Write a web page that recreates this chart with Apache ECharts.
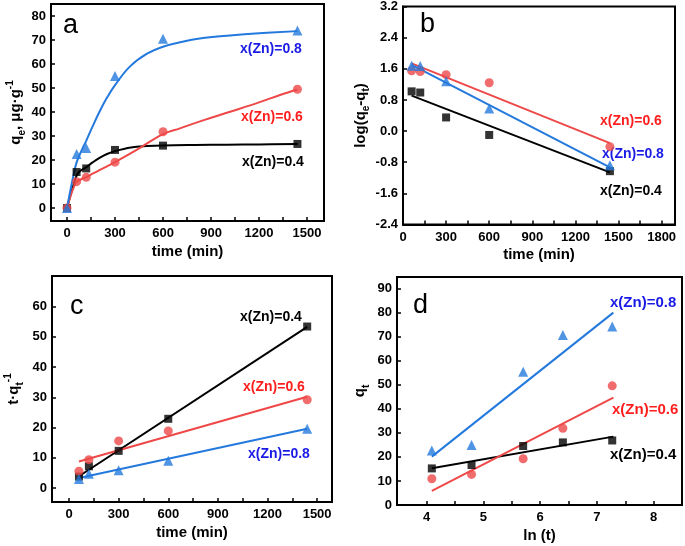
<!DOCTYPE html>
<html><head><meta charset="utf-8">
<script src="https://cdn.jsdelivr.net/npm/echarts@6/dist/echarts.min.js"></script>
<style>html,body{margin:0;padding:0;background:#fff}#c{width:685px;height:546px}</style>
</head><body><div id="c"></div>
<script>
// ---------- data ----------
const timeT = [0, 60, 120, 300, 600, 1440];
const aQ04 = [0, 15.0, 16.5, 24.2, 26.0, 26.7];
const aQ06 = [0, 11.0, 12.8, 19.1, 31.8, 49.5];
const aQ08 = [0, 22.5, 25.0, 55.0, 70.5, 74.0];

const aFitT04 = [0, 20, 40, 60, 80, 120, 160, 206, 250, 300, 400, 500, 600, 800, 1000, 1200, 1440];
const aFitQ04 = [0, 5, 9.5, 13.5, 15.3, 17, 19, 21, 22.5, 23.7, 25.2, 25.8, 26.1, 26.3, 26.4, 26.5, 26.7];
const aFitT06 = [0, 20, 40, 60, 90, 120, 160, 206, 250, 300, 435, 600, 706, 850, 1019, 1200, 1331, 1440];
const aFitQ06 = [0, 4.5, 8.3, 10.9, 12, 12.9, 14.3, 15.9, 17.4, 19.1, 24.2, 30.8, 33.2, 36.5, 40.1, 44, 47.1, 49.4];
const aFitT08 = [0, 20, 40, 60, 90, 120, 160, 206, 250, 300, 394, 500, 600, 700, 850, 1019, 1200, 1440];
const aFitQ08 = [0, 7, 13.5, 19, 23.8, 28, 34, 40.5, 46, 51.2, 59, 64.3, 67.2, 69, 70.8, 71.9, 72.8, 73.7];

const bT = [60, 120, 300, 600, 1440];
const bLog04 = [1.02, 0.99, 0.35, -0.10, -1.03];
const bLog06 = [1.55, 1.53, 1.45, 1.24, -0.40];
const bLog08 = [1.68, 1.67, 1.28, 0.58, -0.88];
const bFitT = [60, 1440];
const bFit04 = [0.91, -1.06];
const bFit06 = [1.74, -0.31];
const bFit08 = [1.70, -0.93];

const cT = [60, 120, 300, 600, 1440];
const cR04 = [3.8, 7.2, 12.3, 22.9, 53.4];
const cR06 = [5.6, 9.4, 15.6, 18.9, 29.2];
const cR08 = [3.0, 4.7, 5.9, 9.0, 19.6];
const cFitT = [60, 1440];
const cFit04 = [3.9, 53.3];
const cFit06 = [8.8, 30.2];
const cFit08 = [3.3, 19.6];

const dLnT = [4.09, 4.79, 5.70, 6.40, 7.27];
const dQ04 = [15.2, 16.6, 24.5, 26.0, 26.8];
const dQ06 = [10.9, 12.7, 19.2, 31.9, 49.5];
const dQ08 = [22.6, 24.9, 55.3, 70.6, 74.1];
const dFitX = [4.09, 7.29];
const dFit04 = [15.3, 28.4];
const dFit06 = [5.9, 44.6];
const dFit08 = [20.1, 79.9];

const timeTicks = [0, 150, 300, 450, 600, 750, 900, 1050, 1200, 1350, 1500];
const timeLabels = [0, 300, 600, 900, 1200, 1500];
const bTimeTicks = [0, 150, 300, 450, 600, 750, 900, 1050, 1200, 1350, 1500, 1650, 1800];
const bTimeLabels = [0, 300, 600, 900, 1200, 1500, 1800];
const aYTicks = [0, 10, 20, 30, 40, 50, 60, 70, 80];
const bYTicks = [-2.4, -1.6, -0.8, 0, 0.8, 1.6, 2.4, 3.2];
const cYTicks = [0, 10, 20, 30, 40, 50, 60];
const dXTicks = [4, 4.5, 5, 5.5, 6, 6.5, 7, 7.5, 8];
const dXLabels = [4, 5, 6, 7, 8];
const dYTicks = [0, 10, 20, 30, 40, 50, 60, 70, 80, 90];

const seriesNames = ['x(Zn)=0.4', 'x(Zn)=0.6', 'x(Zn)=0.8'];

// ---------- styling ----------
const FONT = '"Liberation Sans", Arial, sans-serif';
const C_BLACK = '#000000', C_RED = '#EE4848', C_BLUE = '#2479DD';
const T_RED = '#FF1E1E', T_BLUE = '#1A1AE6';
const zip = (a, b) => a.map((v, i) => [v, b[i]]);

function xAx(grid, min, max, ticks, labels, name, gap) {
  return {
    type: 'value', gridIndex: grid, min: min, max: max,
    name: name, nameLocation: 'middle', nameGap: gap,
    nameTextStyle: { fontFamily: FONT, fontWeight: 'bold', fontSize: 15, color: '#000' },
    axisLine: { show: true, onZero: false, lineStyle: { color: '#000', width: 2 } },
    axisTick: { show: true, inside: true, length: 4, customValues: ticks, lineStyle: { color: '#000', width: 1.5 } },
    axisLabel: { customValues: labels, fontFamily: FONT, fontWeight: 'bold', fontSize: 13, color: '#000', margin: 6,
      formatter: v => String(v) },
    splitLine: { show: false }
  };
}
function yAx(grid, min, max, ticks, name, gap, fmt) {
  return {
    type: 'value', gridIndex: grid, min: min, max: max,
    name: name, nameLocation: 'middle', nameGap: gap,
    nameTextStyle: {
      fontFamily: FONT, fontWeight: 'bold', fontSize: 15, color: '#000', lineHeight: 22,
      rich: {
        n: { fontFamily: FONT, fontWeight: 'bold', fontSize: 15, lineHeight: 22, color: '#000' },
        sub: { fontFamily: FONT, fontWeight: 'bold', fontSize: 10, lineHeight: 10, verticalAlign: 'bottom', color: '#000' },
        sup: { fontFamily: FONT, fontWeight: 'bold', fontSize: 10, lineHeight: 10, verticalAlign: 'top', color: '#000' }
      }
    },
    axisLine: { show: true, onZero: false, lineStyle: { color: '#000', width: 2 } },
    axisTick: { show: true, inside: true, length: 4, customValues: ticks, lineStyle: { color: '#000', width: 1.5 } },
    axisLabel: { customValues: ticks, fontFamily: FONT, fontWeight: 'bold', fontSize: 13, color: '#000', margin: 5,
      formatter: fmt || (v => String(v)) },
    splitLine: { show: false }
  };
}
function pts(grid, data, sym, color, size, name) {
  return { type: 'scatter', name: name, xAxisIndex: grid, yAxisIndex: grid, data: data, symbol: sym,
    symbolSize: size, itemStyle: { color: color }, z: 4 };
}
function fit(grid, data, color, smooth) {
  return { type: 'line', xAxisIndex: grid, yAxisIndex: grid, data: data, showSymbol: false, smooth: smooth || false,
    lineStyle: { color: color, width: 2 }, z: 3, silent: true };
}
function label(x, y, text, color, size) {
  return { type: 'text', left: x, top: y, style: { text: text, fill: color, font: 'bold ' + (size || 14) + 'px ' + FONT } };
}
function letter(x, y, text) {
  return { type: 'text', left: x, top: y, style: { text: text, fill: '#000', font: '27px ' + FONT } };
}

const chart = echarts.init(document.getElementById('c'));
chart.setOption({
  backgroundColor: '#fff',
  animation: false,
  grid: [
    { left: 51, top: 4, width: 273, height: 217, show: true, borderColor: '#000', borderWidth: 2 },
    { left: 403, top: 6.5, width: 272, height: 218, show: true, borderColor: '#000', borderWidth: 2 },
    { left: 52, top: 276, width: 280, height: 226, show: true, borderColor: '#000', borderWidth: 2 },
    { left: 397, top: 277, width: 285, height: 228, show: true, borderColor: '#000', borderWidth: 2 }
  ],
  xAxis: [
    xAx(0, -100, 1606, timeTicks, timeLabels, 'time (min)', 23),
    xAx(1, 0, 1893, bTimeTicks, bTimeLabels, 'time (min)', 23),
    xAx(2, -103, 1590, timeTicks, timeLabels, 'time (min)', 23),
    xAx(3, 3.476, 8.5, dXTicks, dXLabels, 'ln (t)', 23)
  ],
  yAxis: [
    yAx(0, -5.4, 85, aYTicks, '{n|q}{sub|e}{n|, μg·g}{sup|-1}', 24),
    yAx(1, -2.4, 3.2, bYTicks, '{n|log(q}{sub|e}{n|-q}{sub|t}{n|)}', 26, v => v.toFixed(1)),
    yAx(2, -4.6, 70.1, cYTicks, '{n|t·q}{sub|t}{sup|-1}', 27),
    yAx(3, 0, 94.7, dYTicks, '{n|q}{sub|t}', 26)
  ],
  series: [
    fit(0, zip(aFitT04, aFitQ04), C_BLACK, 0.4),
    fit(0, zip(aFitT06, aFitQ06), C_RED, 0.4),
    fit(0, zip(aFitT08, aFitQ08), C_BLUE, 0.4),
    pts(0, zip(timeT, aQ04), 'rect', C_BLACK, 8, seriesNames[0]),
    pts(0, zip(timeT, aQ06), 'circle', C_RED, 9, seriesNames[1]),
    pts(0, zip(timeT, aQ08), 'triangle', C_BLUE, 10, seriesNames[2]),

    fit(1, zip(bFitT, bFit04), C_BLACK),
    fit(1, zip(bFitT, bFit06), C_RED),
    fit(1, zip(bFitT, bFit08), C_BLUE),
    pts(1, zip(bT, bLog04), 'rect', C_BLACK, 8, seriesNames[0]),
    pts(1, zip(bT, bLog06), 'circle', C_RED, 9, seriesNames[1]),
    pts(1, zip(bT, bLog08), 'triangle', C_BLUE, 10, seriesNames[2]),

    fit(2, zip(cFitT, cFit04), C_BLACK),
    fit(2, zip(cFitT, cFit06), C_RED),
    fit(2, zip(cFitT, cFit08), C_BLUE),
    pts(2, zip(cT, cR04), 'rect', C_BLACK, 8, seriesNames[0]),
    pts(2, zip(cT, cR06), 'circle', C_RED, 9, seriesNames[1]),
    pts(2, zip(cT, cR08), 'triangle', C_BLUE, 10, seriesNames[2]),

    fit(3, zip(dFitX, dFit04), C_BLACK),
    fit(3, zip(dFitX, dFit06), C_RED),
    fit(3, zip(dFitX, dFit08), C_BLUE),
    pts(3, zip(dLnT, dQ04), 'rect', C_BLACK, 8, seriesNames[0]),
    pts(3, zip(dLnT, dQ06), 'circle', C_RED, 9, seriesNames[1]),
    pts(3, zip(dLnT, dQ08), 'triangle', C_BLUE, 10, seriesNames[2])
  ],
  graphic: [
    letter(63, 12, 'a'), letter(420, 11, 'b'), letter(70, 293, 'c'), letter(413, 292, 'd'),
    label(240, 42, seriesNames[2], T_BLUE), label(241, 110, seriesNames[1], T_RED), label(242, 155, seriesNames[0], '#000'),
    label(600, 114, seriesNames[1], T_RED), label(602, 147, seriesNames[2], T_BLUE), label(600, 184, seriesNames[0], '#000'),
    label(240, 310, seriesNames[0], '#000'), label(243, 380, seriesNames[1], T_RED), label(248, 447, seriesNames[2], T_BLUE),
    label(610, 295, seriesNames[2], T_BLUE, 15), label(612, 402, seriesNames[1], T_RED, 15), label(610, 447, seriesNames[0], '#000', 15)
  ]
});
</script></body></html>
